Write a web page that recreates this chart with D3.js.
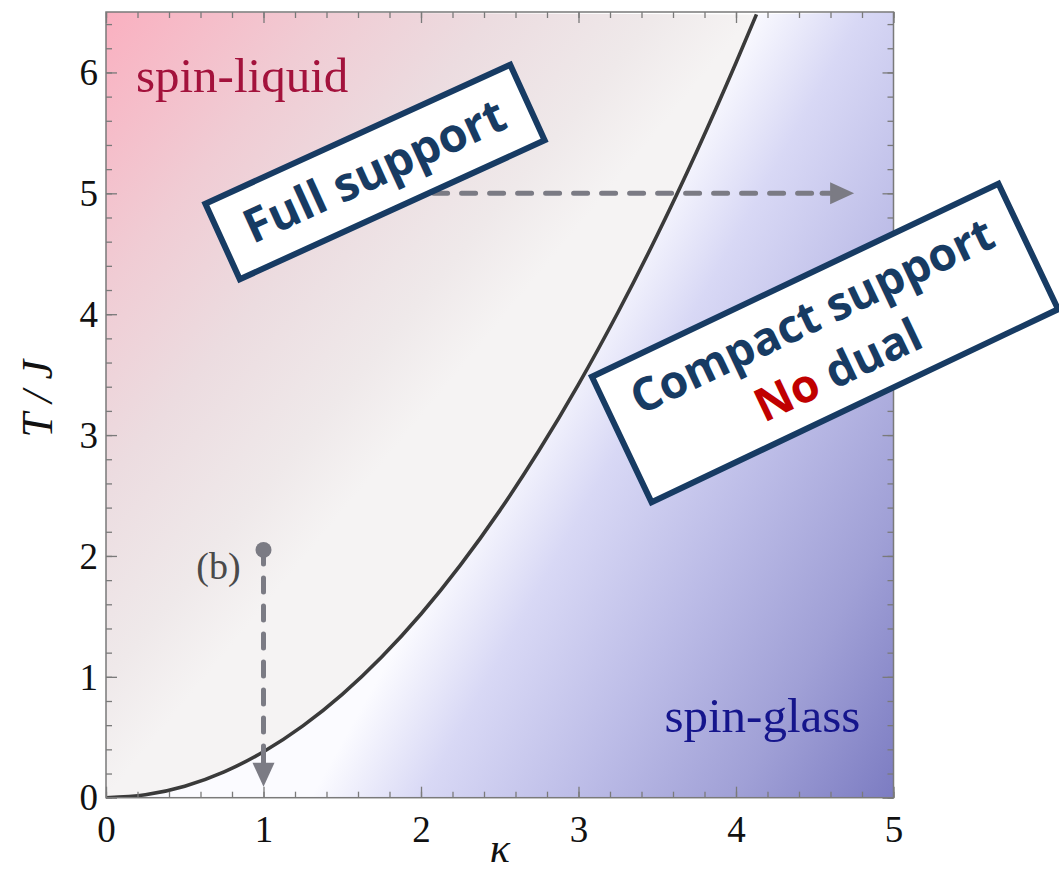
<!DOCTYPE html>
<html>
<head>
<meta charset="utf-8">
<script src="https://cdn.jsdelivr.net/npm/d3@7"></script>
<style>
  body { margin: 0; background: #fff; }
  svg { display: block; }
</style>
</head>
<body>
<svg id="chart"></svg>
<script>
// Critical line T/J vs kappa
const kappa  = [0, 0.25, 0.5, 0.75, 1, 1.25, 1.5, 1.75, 2, 2.25, 2.5, 2.75, 3, 3.25, 3.5, 3.75, 4, 4.13];
const tOverJ = [0, 0.024, 0.095, 0.214, 0.38, 0.594, 0.855, 1.164, 1.52, 1.924, 2.375, 2.874, 3.42, 4.014, 4.655, 5.344, 6.08, 6.48];

const xTicks = [0, 1, 2, 3, 4, 5];
const yTicks = [0, 1, 2, 3, 4, 5, 6];
const xMinor = d3.range(0, 5.01, 0.2);
const yMinor = d3.range(0, 6.51, 0.2);

// dashed arrows: [kappa, T] start -> end
const arrowRight = [[2.08, 5], [4.75, 5]];
const arrowDown  = [[1, 2.05], [1, 0.09]];

const width = 1059, height = 872;
const margin = { top: 12, right: 165.5, bottom: 74.3, left: 106 };
const w = width - margin.left - margin.right;
const h = height - margin.top - margin.bottom;

const svg = d3.select("#chart").attr("width", width).attr("height", height);
const defs = svg.append("defs");
const g = svg.append("g").attr("transform", `translate(${margin.left},${margin.top})`);

const x = d3.scaleLinear().domain([0, 5]).range([0, w]);
const y = d3.scaleLinear().domain([0, 6.5]).range([h, 0]);

const curve = kappa.map((k, i) => [k, tOverJ[i]]);

// foot of perpendicular from point p onto line a-b
function foot(a, b, p) {
  const dx = b[0] - a[0], dy = b[1] - a[1];
  const t = ((p[0] - a[0]) * dx + (p[1] - a[1]) * dy) / (dx * dx + dy * dy);
  return [a[0] + t * dx, a[1] + t * dy];
}

// pink side (spin-liquid)
const pA = [x(0), y(6.5)];
const pF = foot([x(0), y(0)], [x(4.13), y(6.5)], pA);
const pink = defs.append("linearGradient").attr("id", "pink")
  .attr("gradientUnits", "userSpaceOnUse")
  .attr("x1", pF[0]).attr("y1", pF[1]).attr("x2", pA[0]).attr("y2", pA[1]);
[[0, "rgb(245,243,243)"], [0.15, "rgb(239,233,234)"], [0.4, "rgb(236,220,224)"],
 [0.65, "rgb(240,204,212)"], [1, "rgb(250,176,192)"]].forEach(s =>
  pink.append("stop").attr("offset", s[0]).attr("stop-color", s[1]));

// blue side (spin-glass)
const bQ = [x(5), y(0)];
const bF = foot([x(1.3), y(0)], [x(4.1), y(6.5)], bQ);
const blue = defs.append("linearGradient").attr("id", "blue")
  .attr("gradientUnits", "userSpaceOnUse")
  .attr("x1", bF[0]).attr("y1", bF[1]).attr("x2", bQ[0]).attr("y2", bQ[1]);
[[0, "rgb(251,251,255)"], [0.19, "rgb(216,216,245)"], [0.46, "rgb(188,188,231)"],
 [0.73, "rgb(160,160,214)"], [1, "rgb(124,124,194)"]].forEach(s =>
  blue.append("stop").attr("offset", s[0]).attr("stop-color", s[1]));

defs.append("clipPath").attr("id", "plot").append("rect").attr("width", w).attr("height", h);

const line = d3.line().x(d => x(d[0])).y(d => y(d[1])).curve(d3.curveMonotoneX);
const smooth = line(curve);

const plot = g.append("g").attr("clip-path", "url(#plot)");
plot.append("path")
  .attr("d", smooth + `L${x(0)},${y(6.5)}Z`)
  .attr("fill", "url(#pink)");
plot.append("path")
  .attr("d", smooth + `L${x(5)},${y(6.5)}L${x(5)},${y(0)}Z`)
  .attr("fill", "url(#blue)");
plot.append("path")
  .attr("d", smooth)
  .attr("fill", "none")
  .attr("stroke", "#3a3a3a")
  .attr("stroke-width", 3.6);

// axes, ticks inward on all sides
const axisColor = "#7a7a7a";
function styleAxis(sel) {
  sel.select(".domain").remove();
  sel.selectAll("line").attr("stroke", axisColor).attr("stroke-width", 1.3);
}
g.append("g").attr("transform", `translate(0,${h})`)
  .call(d3.axisBottom(x).tickValues(xMinor).tickSize(-6).tickFormat("")).call(styleAxis);
g.append("g").attr("transform", `translate(0,${h})`)
  .call(d3.axisBottom(x).tickValues(xTicks).tickSize(-11).tickFormat(d3.format("d")))
  .call(styleAxis)
  .call(a => a.selectAll("text").attr("y", 44).attr("dy", 0));
g.append("g")
  .call(d3.axisTop(x).tickValues(xMinor).tickSize(-6).tickFormat("")).call(styleAxis);
g.append("g")
  .call(d3.axisTop(x).tickValues(xTicks).tickSize(-11).tickFormat("")).call(styleAxis);
g.append("g")
  .call(d3.axisLeft(y).tickValues(yMinor).tickSize(-6).tickFormat("")).call(styleAxis);
g.append("g")
  .call(d3.axisLeft(y).tickValues(yTicks).tickSize(-11).tickFormat(d3.format("d")))
  .call(styleAxis)
  .call(a => a.selectAll("text").attr("x", -8).attr("dy", "0.33em"));
g.append("g").attr("transform", `translate(${w},0)`)
  .call(d3.axisRight(y).tickValues(yMinor).tickSize(-6).tickFormat("")).call(styleAxis);
g.append("g").attr("transform", `translate(${w},0)`)
  .call(d3.axisRight(y).tickValues(yTicks).tickSize(-11).tickFormat("")).call(styleAxis);

g.selectAll(".tick text")
  .attr("font-family", "'Liberation Serif', 'Times New Roman', serif")
  .attr("font-size", 37)
  .attr("fill", "#111");

g.append("rect").attr("width", w).attr("height", h)
  .attr("fill", "none").attr("stroke", axisColor).attr("stroke-width", 1.5);

// axis titles
g.append("text")
  .attr("x", x(2.5)).attr("y", h + 64)
  .attr("text-anchor", "middle")
  .attr("font-family", "'Liberation Serif', serif").attr("font-style", "italic")
  .attr("font-size", 42).attr("fill", "#111")
  .text("κ");
g.append("text")
  .attr("transform", `translate(${-54},${y(3.3)}) rotate(-90)`)
  .attr("text-anchor", "middle")
  .attr("font-family", "'Liberation Serif', serif").attr("font-style", "italic")
  .attr("font-size", 44).attr("fill", "#111")
  .text("T / J");

// region labels
g.append("text")
  .attr("x", x(0.19)).attr("y", y(5.84))
  .attr("font-family", "'Liberation Serif', serif").attr("font-size", 49)
  .attr("fill", "#a3123c")
  .text("spin-liquid");
g.append("text")
  .attr("x", x(4.79)).attr("y", y(0.54))
  .attr("text-anchor", "end")
  .attr("font-family", "'Liberation Serif', serif").attr("font-size", 49)
  .attr("fill", "#15158c")
  .text("spin-glass");

// dashed arrows
const arrowColor = "#7b7b84";
function arrow(pts, dash) {
  const p0 = [x(pts[0][0]), y(pts[0][1])];
  const p1 = [x(pts[1][0]), y(pts[1][1])];
  const len = Math.hypot(p1[0] - p0[0], p1[1] - p0[1]);
  const ux = (p1[0] - p0[0]) / len, uy = (p1[1] - p0[1]) / len;
  const headL = 24, headW = 11;
  const base = [p1[0] - ux * headL, p1[1] - uy * headL];
  g.append("line")
    .attr("x1", p0[0]).attr("y1", p0[1]).attr("x2", base[0] - ux * 6).attr("y2", base[1] - uy * 6)
    .attr("stroke", arrowColor).attr("stroke-width", 5)
    .attr("stroke-linecap", "round").attr("stroke-dasharray", dash);
  g.append("path")
    .attr("d", `M${p1[0]},${p1[1]}L${base[0] - uy * headW},${base[1] + ux * headW}` +
               `L${base[0] + uy * headW},${base[1] - ux * headW}Z`)
    .attr("fill", arrowColor);
  g.append("line")
    .attr("x1", base[0] - ux * 8).attr("y1", base[1] - uy * 8).attr("x2", base[0]).attr("y2", base[1])
    .attr("stroke", arrowColor).attr("stroke-width", 5).attr("stroke-linecap", "round");
}
arrow(arrowRight, "14,14");
arrow(arrowDown, "14,14");
g.append("circle")
  .attr("cx", x(arrowDown[0][0])).attr("cy", y(arrowDown[0][1])).attr("r", 8)
  .attr("fill", arrowColor);
g.append("text")
  .attr("x", x(0.855)).attr("y", y(1.81))
  .attr("text-anchor", "end")
  .attr("font-family", "'Liberation Serif', serif").attr("font-size", 38)
  .attr("fill", "#4a4a4a")
  .text("(b)");

// boxed annotations
const navy = "#173b63";
function box(cx, cy, bw, bh, angle) {
  const b = svg.append("g").attr("transform", `translate(${cx},${cy}) rotate(${angle})`);
  b.append("rect")
    .attr("x", -bw / 2).attr("y", -bh / 2).attr("width", bw).attr("height", bh)
    .attr("fill", "#fff").attr("stroke", navy).attr("stroke-width", 6);
  return b;
}
const boxFont = "'Open Sans', 'DejaVu Sans', sans-serif";

const b1 = box(375, 172, 335, 83, -24.5);
b1.append("text")
  .attr("y", 15).attr("text-anchor", "middle")
  .attr("font-family", boxFont).attr("font-weight", 700).attr("font-size", 47)
  .attr("fill", navy)
  .text("Full support");

const b2 = box(825, 343, 450, 139, -25.4);
b2.append("text")
  .attr("y", -14).attr("text-anchor", "middle")
  .attr("font-family", boxFont).attr("font-weight", 700).attr("font-size", 46)
  .attr("fill", navy)
  .text("Compact support");
const l2 = b2.append("text")
  .attr("y", 46).attr("text-anchor", "middle")
  .attr("font-family", boxFont).attr("font-weight", 700).attr("font-size", 46)
  .attr("fill", navy);
l2.append("tspan").attr("fill", "#c00000").text("No");
l2.append("tspan").text(" dual");
</script>
</body>
</html>
